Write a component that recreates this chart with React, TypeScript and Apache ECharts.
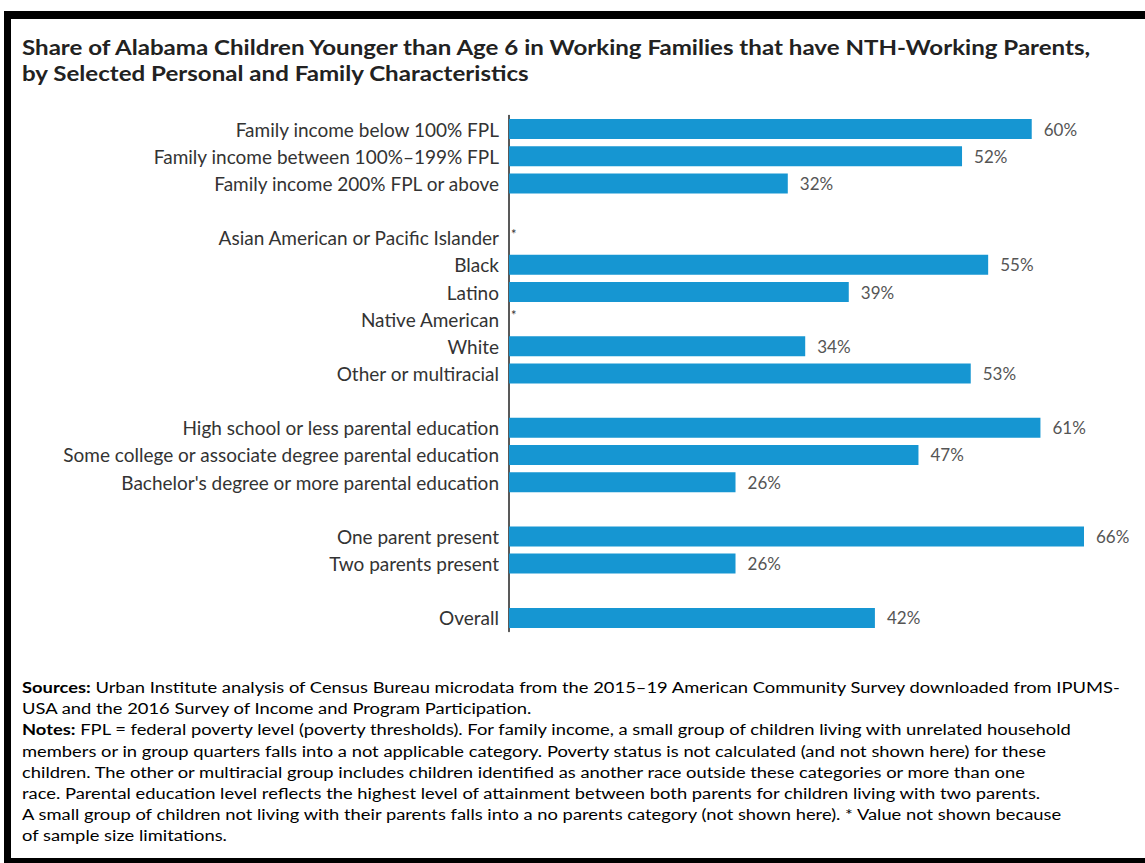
import React, { useEffect, useRef } from "react";
import * as echarts from "echarts";

const titleLines = [
  "Share of Alabama Children Younger than Age 6 in Working Families that have NTH-Working Parents,",
  "by Selected Personal and Family Characteristics",
];

const categories = [
  "Family income below 100% FPL",
  "Family income between 100%\u2013199% FPL",
  "Family income 200% FPL or above",
  " ",
  "Asian American or Pacific Islander",
  "Black",
  "Latino",
  "Native American",
  "White",
  "Other or multiracial",
  "  ",
  "High school or less parental education",
  "Some college or associate degree parental education",
  "Bachelor's degree or more parental education",
  "   ",
  "One parent present",
  "Two parents present",
  "    ",
  "Overall",
];

// null = spacer row; "*" = value suppressed
const values: (number | null | "*")[] = [
  60, 52, 32, null,
  "*", 55, 39, "*", 34, 53, null,
  61, 47, 26, null,
  66, 26, null,
  42,
];

const sourcesText =
  "Urban Institute analysis of Census Bureau microdata from the 2015\u201319 American Community Survey downloaded from IPUMS-";
const sourcesText2 = "USA and the 2016 Survey of Income and Program Participation.";
const notesLines = [
  "FPL = federal poverty level (poverty thresholds). For family income, a small group of children living with unrelated household",
  "members or in group quarters falls into a not applicable category. Poverty status is not calculated (and not shown here) for these",
  "children. The other or multiracial group includes children identified as another race outside these categories or more than one",
  "race. Parental education level reflects the highest level of attainment between both parents for children living with two parents.",
  "A small group of children not living with their parents falls into a no parents category (not shown here). * Value not shown because",
  "of sample size limitations.",
];

const BLUE = "#1696d2";
const FONT = "Lato, 'Open Sans', sans-serif";

export default function App() {
  const ref = useRef<HTMLDivElement>(null);
  useEffect(() => {
    if (!ref.current) return;
    const chart = echarts.init(ref.current, null, { renderer: "svg" });
    const data = values.map((v) => {
      if (v === "*") {
        return {
          value: 0,
          label: { show: true, formatter: "*", offset: [-10, -4], color: "#333", fontSize: 13 },
        };
      }
      if (v === null) return { value: null as any, label: { show: false } };
      return { value: v };
    });
    const footRich = {
      b: { fontFamily: FONT, fontWeight: "bold" as const, fontSize: 16, color: "#222", lineHeight: 21.15 },
      n: { fontFamily: FONT, fontSize: 16, color: "#333", lineHeight: 21.15 },
    };
    const footText = [
      "{b|Sources:} {n|" + sourcesText + "}",
      "{n|" + sourcesText2 + "}",
      "{b|Notes:} {n|" + notesLines[0] + "}",
      ...notesLines.slice(1).map((l) => "{n|" + l + "}"),
    ].join("\n");

    chart.setOption({
      animation: false,
      backgroundColor: "#ffffff",
      textStyle: { fontFamily: FONT },
      grid: { left: 509, top: 115.5, width: 575, height: 516, containLabel: false },
      xAxis: {
        type: "value",
        min: 0,
        max: 66,
        show: false,
      },
      yAxis: {
        type: "category",
        data: categories,
        inverse: true,
        axisLine: { show: true, lineStyle: { color: "#222", width: 1.5 } },
        axisTick: { show: false },
        axisLabel: {
          fontFamily: FONT,
          fontSize: 19,
          color: "#333",
          margin: 10,
          interval: 0,
        },
      },
      series: [
        {
          type: "bar",
          data,
          barWidth: 20,
          itemStyle: { color: BLUE },
          label: {
            show: true,
            position: "right",
            distance: 12,
            formatter: (p: any) => (p.value == null ? "" : p.value + "%"),
            fontFamily: FONT,
            fontSize: 17,
            color: "#555",
          },
        },
      ],
      graphic: [
        { type: "rect", shape: { x: 4, y: 11, width: 1141, height: 8 }, style: { fill: "#000" } },
        { type: "rect", shape: { x: 4, y: 11, width: 7, height: 852 }, style: { fill: "#000" } },
        { type: "rect", shape: { x: 4, y: 858, width: 1141, height: 5 }, style: { fill: "#000" } },
        {
          type: "text",
          x: 22,
          y: 34,
          scaleX: 1.148,
          style: {
            text: titleLines.join("\n"),
            fontFamily: FONT,
            fontWeight: "bold",
            fontSize: 21,
            lineHeight: 26,
            fill: "#222",
          },
        },
        {
          type: "text",
          x: 22,
          y: 676.5,
          scaleX: 1.147,
          style: { text: footText, rich: footRich, fontFamily: FONT, fontSize: 16 },
        },
      ],
    });
    return () => chart.dispose();
  }, []);
  return (
    <div
      ref={ref}
      style={{ position: "fixed", left: 0, top: 0, width: 1145, height: 863, background: "#fff" }}
    />
  );
}
